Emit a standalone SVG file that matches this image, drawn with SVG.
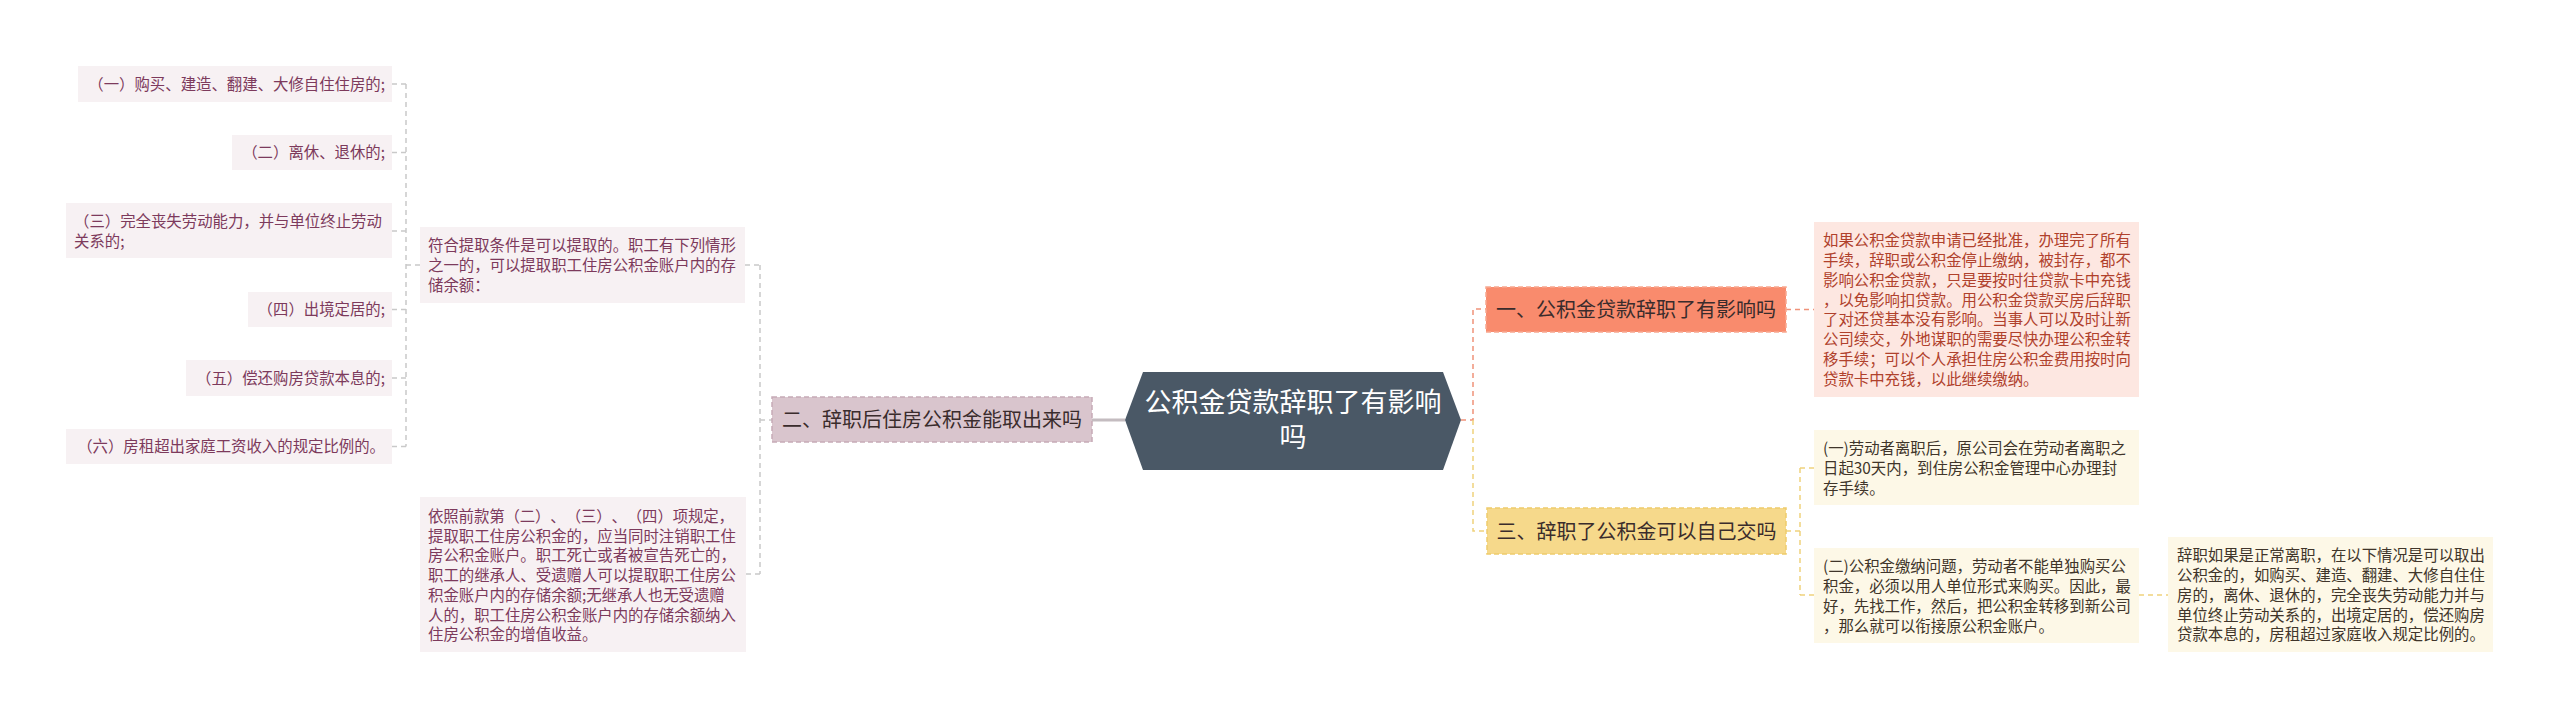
<svg xmlns="http://www.w3.org/2000/svg" width="2560" height="719" viewBox="0 0 2560 719">
<style>
text{font-family:"Noto Sans CJK SC","Noto Sans",sans-serif;text-spacing-trim:space-all;}
.sm{font-size:15.4px;}
.lt{fill:#7d3a5c;}
.lb{fill:#f7f1f3;}
.rt{fill:#b0412c;}
.rb{fill:#fde7e1;}
.yt{fill:#40352a;}
.yb{fill:#fdf8e7;}
.big{font-size:20px;fill:#3a2c2c;text-anchor:middle;}
.cg{stroke:#c9c9c9;stroke-width:1.5;fill:none;stroke-dasharray:5 4;}
.co{stroke:#f0927a;stroke-width:1.5;fill:none;stroke-dasharray:5 4;}
.cy{stroke:#efd27c;stroke-width:1.5;fill:none;stroke-dasharray:5 4;}
</style>
<rect width="2560" height="719" fill="#ffffff"/>
<g id="connectors">
  <path class="cg" d="M392 84H406M392 152.5H406M392 231H406M392 309.5H406M392 378H406M392 446.5H406M406 84V446.5M406 265H420"/>
  <path class="cg" d="M745 265H760M746 574H760M760 265V574M760 420H772"/>
  <path d="M1092 420H1125" stroke="#c4bcc0" stroke-width="3" fill="none"/>
  <path class="co" d="M1461 420H1473V309H1486"/>
  <path class="cy" d="M1473 420V531H1487"/>
  <path class="co" d="M1786 309.5H1814"/>
  <path class="cy" d="M1786 531H1800M1800 468V595M1800 468H1814M1800 595H1814"/>
  <path class="cy" d="M2139 595H2168"/>
</g>
<g id="root">
  <polygon points="1143,372 1443,372 1461,420 1443,470 1143,470 1125,420" fill="#4a5866"/>
  <text x="1293" y="412" font-size="27" fill="#ffffff" text-anchor="middle">公积金贷款辞职了有影响</text>
  <text x="1293" y="447" font-size="27" fill="#ffffff" text-anchor="middle">吗</text>
</g>
<g id="n1">
  <rect x="1486" y="287" width="300" height="45" fill="#f98b6d" stroke="#f7a890" stroke-width="1.5" stroke-dasharray="5 3"/>
  <text class="big" x="1636" y="316.5">一、公积金贷款辞职了有影响吗</text>
</g>
<g id="n2">
  <rect x="772" y="397" width="320" height="45" fill="#d9c5cd" stroke="#c6aab7" stroke-width="1.5" stroke-dasharray="5 3"/>
  <text class="big" x="932" y="427">二、辞职后住房公积金能取出来吗</text>
</g>
<g id="n3">
  <rect x="1487" y="508" width="299" height="46" fill="#f6d98b" stroke="#eecb6c" stroke-width="1.5" stroke-dasharray="5 3"/>
  <text class="big" x="1636.5" y="538.5">三、辞职了公积金可以自己交吗</text>
</g>
<g id="n1a">
  <rect class="rb" x="1814" y="222" width="325" height="175"/>
  <text class="sm rt" x="1823" y="246">如果公积金贷款申请已经批准，办理完了所有</text>
  <text class="sm rt" x="1823" y="266">手续，辞职或公积金停止缴纳，被封存，都不</text>
  <text class="sm rt" x="1823" y="286">影响公积金贷款，只是要按时往贷款卡中充钱</text>
  <text class="sm rt" x="1823" y="305.5">，以免影响扣贷款。用公积金贷款买房后辞职</text>
  <text class="sm rt" x="1823" y="325">了对还贷基本没有影响。当事人可以及时让新</text>
  <text class="sm rt" x="1823" y="345">公司续交，外地谋职的需要尽快办理公积金转</text>
  <text class="sm rt" x="1823" y="365">移手续；可以个人承担住房公积金费用按时向</text>
  <text class="sm rt" x="1823" y="384.5">贷款卡中充钱，以此继续缴纳。</text>
</g>
<g id="n3a">
  <rect class="yb" x="1814" y="430" width="325" height="75"/>
  <text class="sm yt" x="1823" y="454">(一)劳动者离职后，原公司会在劳动者离职之</text>
  <text class="sm yt" x="1823" y="474">日起30天内，到住房公积金管理中心办理封</text>
  <text class="sm yt" x="1823" y="494">存手续。</text>
</g>
<g id="n3b">
  <rect class="yb" x="1814" y="548" width="325" height="95"/>
  <text class="sm yt" x="1823" y="572">(二)公积金缴纳问题，劳动者不能单独购买公</text>
  <text class="sm yt" x="1823" y="592">积金，必须以用人单位形式来购买。因此，最</text>
  <text class="sm yt" x="1823" y="612">好，先找工作，然后，把公积金转移到新公司</text>
  <text class="sm yt" x="1823" y="631.5">，那么就可以衔接原公积金账户。</text>
</g>
<g id="n3b1">
  <rect class="yb" x="2168" y="537" width="325" height="115"/>
  <text class="sm yt" x="2177" y="561">辞职如果是正常离职，在以下情况是可以取出</text>
  <text class="sm yt" x="2177" y="581">公积金的，如购买、建造、翻建、大修自住住</text>
  <text class="sm yt" x="2177" y="601">房的，离休、退休的，完全丧失劳动能力并与</text>
  <text class="sm yt" x="2177" y="620.5">单位终止劳动关系的，出境定居的，偿还购房</text>
  <text class="sm yt" x="2177" y="640">贷款本息的，房租超过家庭收入规定比例的。</text>
</g>
<g id="n2a">
  <rect class="lb" x="420" y="227" width="325" height="76"/>
  <text class="sm lt" x="428" y="251">符合提取条件是可以提取的。职工有下列情形</text>
  <text class="sm lt" x="428" y="271">之一的，可以提取职工住房公积金账户内的存</text>
  <text class="sm lt" x="428" y="291">储余额：</text>
</g>
<g id="n2b">
  <rect class="lb" x="420" y="497" width="326" height="155"/>
  <text class="sm lt" x="428" y="522" textLength="306" lengthAdjust="spacing">依照前款第（二）、（三）、（四）项规定，</text>
  <text class="sm lt" x="428" y="541.5">提取职工住房公积金的，应当同时注销职工住</text>
  <text class="sm lt" x="428" y="561">房公积金账户。职工死亡或者被宣告死亡的，</text>
  <text class="sm lt" x="428" y="581">职工的继承人、受遗赠人可以提取职工住房公</text>
  <text class="sm lt" x="428" y="601">积金账户内的存储余额;无继承人也无受遗赠</text>
  <text class="sm lt" x="428" y="620.5">人的，职工住房公积金账户内的存储余额纳入</text>
  <text class="sm lt" x="428" y="640">住房公积金的增值收益。</text>
</g>
<g id="i1">
  <rect class="lb" x="78" y="66" width="314" height="36"/>
  <text class="sm lt" x="385" y="90" text-anchor="end">（一）购买、建造、翻建、大修自住住房的;</text>
</g>
<g id="i2">
  <rect class="lb" x="232" y="135" width="160" height="35"/>
  <text class="sm lt" x="385" y="158" text-anchor="end">（二）离休、退休的;</text>
</g>
<g id="i3">
  <rect class="lb" x="66" y="203" width="326" height="55"/>
  <text class="sm lt" x="74" y="227">（三）完全丧失劳动能力，并与单位终止劳动</text>
  <text class="sm lt" x="74" y="247">关系的;</text>
</g>
<g id="i4">
  <rect class="lb" x="248" y="292" width="144" height="35"/>
  <text class="sm lt" x="385" y="315" text-anchor="end">（四）出境定居的;</text>
</g>
<g id="i5">
  <rect class="lb" x="186" y="360" width="206" height="36"/>
  <text class="sm lt" x="385" y="384" text-anchor="end">（五）偿还购房贷款本息的;</text>
</g>
<g id="i6">
  <rect class="lb" x="66" y="429" width="326" height="35"/>
  <text class="sm lt" x="385" y="452" text-anchor="end">（六）房租超出家庭工资收入的规定比例的。</text>
</g>
</svg>
